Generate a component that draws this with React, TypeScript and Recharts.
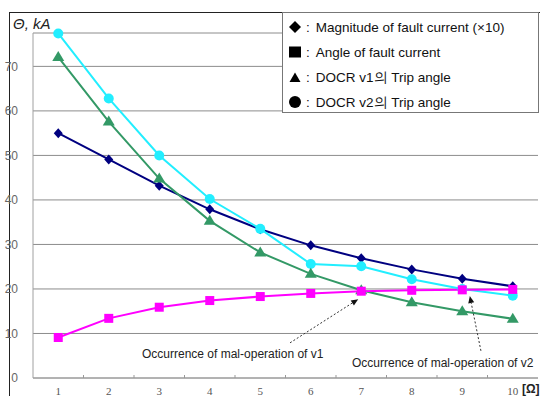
import React from "react";
import { CartesianGrid, Line, LineChart, ReferenceLine, XAxis, YAxis } from "recharts";

const resistance = [1, 2, 3, 4, 5, 6, 7, 8, 9, 10];
const magnitudeX10 = [55, 49.1, 43.2, 37.9, 33.4, 29.8, 26.9, 24.4, 22.3, 20.6];
const faultAngle = [9.1, 13.4, 15.9, 17.4, 18.3, 19.0, 19.5, 19.7, 19.8, 19.9];
const tripV1 = [72.1, 57.6, 44.8, 35.3, 28.2, 23.4, 19.7, 17.0, 15.0, 13.3];
const tripV2 = [77.4, 62.8, 50.0, 40.2, 33.5, 25.6, 25.1, 22.2, 20.0, 18.5];

const yTicks = [0, 10, 20, 30, 40, 50, 60, 70];
const xTicks = [1, 1.5, 2, 2.5, 3, 3.5, 4, 4.5, 5, 5.5, 6, 6.5, 7, 7.5, 8, 8.5, 9, 9.5, 10];

const legendItems = [
  { glyph: "diamond", text: "Magnitude of fault current (×10)" },
  { glyph: "square", text: "Angle of fault current" },
  { glyph: "triangle", text: "DOCR v1의 Trip angle" },
  { glyph: "circle", text: "DOCR v2의 Trip angle" },
];

// arrow annotations (data coords: from -> to)
const arrows = [
  { from: { x: 5.59, y: 7.9 }, to: { x: 6.94, y: 17.7 } },
  { from: { x: 9.37, y: 6.1 }, to: { x: 9.15, y: 18.4 } },
];

const data = resistance.map((r, i) => ({
  r,
  mag: magnitudeX10[i],
  ang: faultAngle[i],
  v1: tripV1[i],
  v2: tripV2[i],
}));

const Diamond = (p: any) => {
  const { cx, cy } = p;
  return <polygon points={`${cx},${cy - 5} ${cx + 4.5},${cy} ${cx},${cy + 5} ${cx - 4.5},${cy}`} fill="#000080" />;
};
const Square = (p: any) => {
  const { cx, cy } = p;
  return <rect x={cx - 4.5} y={cy - 4.5} width={9} height={9} fill="#ff00ff" />;
};
const Tri = (p: any) => {
  const { cx, cy } = p;
  return <polygon points={`${cx},${cy - 6} ${cx + 6},${cy + 4} ${cx - 6},${cy + 4}`} fill="#339966" />;
};
const Circ = (p: any) => {
  const { cx, cy } = p;
  return <circle cx={cx} cy={cy} r={5} fill="#22eeff" />;
};

const Glyph = ({ kind }: { kind: string }) => (
  <svg width={14} height={14} style={{ verticalAlign: "-2px" }}>
    {kind === "diamond" && <polygon points="7,1 13,7 7,13 1,7" fill="#000" />}
    {kind === "square" && <rect x={1} y={1.5} width={12} height={11} fill="#000" />}
    {kind === "triangle" && <polygon points="7,2.5 12.5,12 1.5,12" fill="#000" />}
    {kind === "circle" && <circle cx={7} cy={7} r={6} fill="#000" />}
  </svg>
);

const XTick = (props: any) => {
  const { x, y, payload } = props;
  const v = payload.value;
  if (Number.isInteger(v)) {
    return (
      <text x={x} y={y + 1} dy="0.71em" textAnchor="middle" fontSize={11} fill="#555">
        {v}
      </text>
    );
  }
  const axisY = y - 8;
  return <line x1={x} x2={x} y1={axisY} y2={axisY - 3} stroke="#999" />;
};

const ArrowShape = (props: any) => {
  const { x1, y1, x2, y2 } = props;
  if (x1 == null) return null;
  const ang = Math.atan2(y2 - y1, x2 - x1);
  const len = 7;
  const w = 3;
  const bx = x2 - len * Math.cos(ang);
  const by = y2 - len * Math.sin(ang);
  const px = -Math.sin(ang) * w;
  const py = Math.cos(ang) * w;
  return (
    <g>
      <line x1={x1} y1={y1} x2={bx} y2={by} stroke="#333" strokeDasharray="2 2" />
      <polygon points={`${x2},${y2} ${bx + px},${by + py} ${bx - px},${by - py}`} fill="#111" />
    </g>
  );
};

const noteStyle: React.CSSProperties = {
  position: "absolute",
  fontSize: 12,
  fontFamily: "Liberation Sans, Arial, sans-serif",
  color: "#222",
  whiteSpace: "nowrap",
};

export default function App() {
  return (
    <div style={{ position: "absolute", left: 0, top: 0, width: 540, height: 396, background: "#fff", overflow: "hidden" }}>
      <div
        style={{
          position: "absolute",
          left: 9,
          top: 12,
          width: 560,
          height: 420,
          borderLeft: "1px solid #222",
          borderTop: "1px solid #222",
        }}
      />
      <LineChart
        width={540}
        height={396}
        data={data}
        margin={{ top: 33, right: 2, bottom: 0, left: 0 }}
        style={{ position: "absolute", left: 0, top: 0 }}
      >
        <CartesianGrid vertical={false} stroke="#8c8c8c" />
        <XAxis
          dataKey="r"
          type="number"
          domain={[0.5, 10.5]}
          ticks={xTicks}
          interval={0}
          height={18}
          tickLine={false}
          tickSize={0}
          tickMargin={8}
          tick={<XTick />}
          axisLine={{ stroke: "#a0a0a0" }}
        />
        <YAxis
          type="number"
          domain={[0, 77.5]}
          ticks={yTicks}
          width={33}
          tickLine={false}
          tickMargin={9}
          axisLine={{ stroke: "#a0a0a0" }}
          tick={{ fontSize: 12, fill: "#666", fontFamily: "Liberation Sans, Arial, sans-serif" }}
        />
        <Line dataKey="mag" stroke="#000080" strokeWidth={2} dot={<Diamond />} isAnimationActive={false} />
        <Line dataKey="v2" stroke="#22eeff" strokeWidth={2} dot={<Circ />} isAnimationActive={false} />
        <Line dataKey="v1" stroke="#339966" strokeWidth={2} dot={<Tri />} isAnimationActive={false} />
        <Line dataKey="ang" stroke="#ff00ff" strokeWidth={2} dot={<Square />} isAnimationActive={false} />
        {arrows.map((a, i) => (
          <ReferenceLine key={i} segment={[a.from, a.to]} shape={<ArrowShape />} />
        ))}
      </LineChart>

      <div
        style={{
          position: "absolute",
          left: 13,
          top: 15,
          fontSize: 15,
          fontStyle: "italic",
          fontFamily: "Liberation Sans, Arial, sans-serif",
          color: "#222",
        }}
      >
        Θ, kA
      </div>

      <div
        style={{
          position: "absolute",
          left: 282,
          top: 12,
          width: 255,
          height: 99,
          border: "1px solid #777",
          background: "#fff",
          fontFamily: "Liberation Sans, Arial, sans-serif",
          fontSize: 13.5,
          color: "#111",
        }}
      >
        {legendItems.map((it, i) => (
          <div
            key={i}
            style={{ position: "absolute", left: 5, top: 7 + i * 25, height: 16, lineHeight: "16px", whiteSpace: "nowrap" }}
          >
            <Glyph kind={it.glyph} />
            <span style={{ marginLeft: 4 }}>:</span>
            <span style={{ marginLeft: 6 }}>{it.text}</span>
          </div>
        ))}
      </div>

      <div style={{ ...noteStyle, left: 142, top: 347 }}>Occurrence of mal-operation of v1</div>
      <div style={{ ...noteStyle, left: 352, top: 356 }}>Occurrence of mal-operation of v2</div>
      <div
        style={{
          position: "absolute",
          left: 522,
          top: 382,
          fontSize: 12,
          fontWeight: "bold",
          fontFamily: "Liberation Sans, Arial, sans-serif",
          color: "#222",
        }}
      >
        [Ω]
      </div>
    </div>
  );
}
